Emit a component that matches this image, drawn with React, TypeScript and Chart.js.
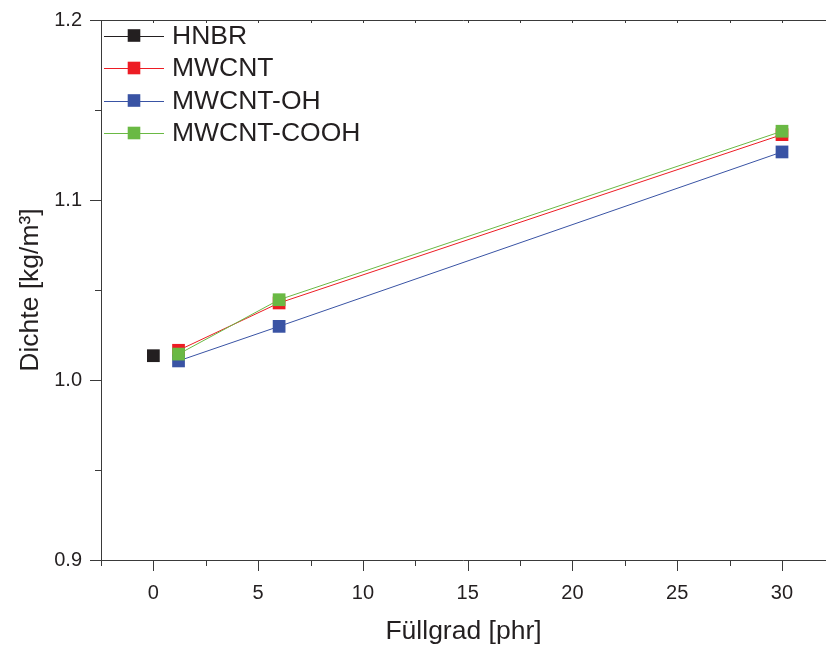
import React, { useEffect, useRef } from "react";
import { Chart, registerables } from "chart.js";

Chart.register(...registerables);

const seriesNames = ["HNBR", "MWCNT", "MWCNT-OH", "MWCNT-COOH"];
const seriesColors = ["#231f20", "#ed1c24", "#3953a4", "#6ab944"];
const hnbrX = [0];
const hnbrY = [1.0135];
const fillX = [1.2, 6, 30];
const mwcntY = [1.0165, 1.0428, 1.1363];
const ohY = [1.0106, 1.0298, 1.1267];
const coohY = [1.0144, 1.0446, 1.1382];
const xTicks = [0, 5, 10, 15, 20, 25, 30];
const yTicks = [0.9, 1.0, 1.1, 1.2];
const xTitle = "Füllgrad [phr]";
const yTitle = "Dichte [kg/m³]";

const FONT = "'Liberation Sans', Arial, sans-serif";
const AXIS_COLOR = "#3a3a3a";

const toPoints = (xs: number[], ys: number[]) => xs.map((x, i) => ({ x, y: ys[i] }));

const axesPlugin = {
  id: "axesPlugin",
  beforeDatasetsDraw(chart: any) {
    const { ctx, chartArea } = chart;
    const xs = chart.scales.x;
    const ys = chart.scales.y;
    const { left, right, top, bottom } = chartArea;
    ctx.save();
    ctx.strokeStyle = AXIS_COLOR;
    ctx.lineWidth = 1;
    ctx.beginPath();
    ctx.moveTo(left + 0.5, top);
    ctx.lineTo(left + 0.5, bottom);
    ctx.moveTo(left, bottom + 0.5);
    ctx.lineTo(right, bottom + 0.5);
    ctx.moveTo(left, top + 0.5);
    ctx.lineTo(right, top + 0.5);
    for (let v = xs.min; v <= xs.max + 1e-9; v += 2.5) {
      const rv = Math.round(v * 10) / 10;
      const px = Math.round(xs.getPixelForValue(rv)) + 0.5;
      const major = Math.abs(rv % 5) < 1e-6;
      ctx.moveTo(px, bottom);
      ctx.lineTo(px, bottom + (major ? 11 : 6));
      ctx.moveTo(px, top);
      ctx.lineTo(px, top + 3);
    }
    for (let i = 0; i <= 6; i++) {
      const v = ys.min + i * 0.05;
      const py = Math.round(ys.getPixelForValue(v)) + 0.5;
      const major = i % 2 === 0;
      ctx.moveTo(left, py);
      ctx.lineTo(left - (major ? 11 : 6), py);
    }
    ctx.stroke();
    ctx.restore();
  },
  afterDraw(chart: any) {
    const { ctx } = chart;
    ctx.save();
    const startY = 35.5;
    const step = 32.5;
    seriesNames.forEach((name, i) => {
      const y = startY + i * step;
      ctx.strokeStyle = seriesColors[i];
      ctx.lineWidth = 1;
      ctx.beginPath();
      ctx.moveTo(104, Math.round(y) + 0.5);
      ctx.lineTo(164, Math.round(y) + 0.5);
      ctx.stroke();
      ctx.fillStyle = seriesColors[i];
      ctx.fillRect(134 - 6.3, y - 6.3, 12.6, 12.6);
      ctx.fillStyle = "#231f20";
      ctx.font = `26.5px ${FONT}`;
      ctx.textBaseline = "middle";
      ctx.textAlign = "left";
      ctx.fillText(name, 172, y + 1);
    });
    ctx.restore();
  },
};

export default function App() {
  const ref = useRef<HTMLCanvasElement | null>(null);
  useEffect(() => {
    if (!ref.current) return;
    const ds = (label: string, data: any[], color: string, order: number) => ({
      label,
      data,
      borderColor: color,
      backgroundColor: color,
      pointBackgroundColor: color,
      pointBorderWidth: 0,
      pointStyle: "rect",
      pointRadius: 9,
      borderWidth: 1,
      showLine: true,
      order,
    });
    const chart = new Chart(ref.current, {
      type: "scatter",
      data: {
        datasets: [
          ds(seriesNames[0], toPoints(hnbrX, hnbrY), seriesColors[0], 3),
          ds(seriesNames[1], toPoints(fillX, mwcntY), seriesColors[1], 2),
          ds(seriesNames[2], toPoints(fillX, ohY), seriesColors[2], 1),
          ds(seriesNames[3], toPoints(fillX, coohY), seriesColors[3], 0),
        ] as any,
      },
      options: {
        animation: false,
        responsive: false,
        devicePixelRatio: 1,
        layout: { autoPadding: false, padding: { top: 20, right: 0, left: 0, bottom: 0 } },
        plugins: { legend: { display: false }, tooltip: { enabled: false } },
        scales: {
          x: {
            type: "linear",
            min: -2.5,
            max: 32.1,
            grid: { display: false, drawTicks: false },
            border: { display: false },
            afterBuildTicks: (s: any) => {
              s.ticks = xTicks.map((v) => ({ value: v }));
            },
            afterFit: (s: any) => {
              s.height = 88;
              s.paddingLeft = 0;
              s.paddingRight = 0;
            },
            ticks: {
              padding: 21,
              color: "#231f20",
              font: { family: FONT, size: 20 },
              maxRotation: 0,
              autoSkip: false,
              callback: (v: any) => String(v),
            },
            title: {
              display: true,
              text: xTitle,
              color: "#231f20",
              font: { family: FONT, size: 26.5 },
              padding: { top: 0, bottom: 0 },
            },
          },
          y: {
            type: "linear",
            min: 0.9,
            max: 1.2,
            grid: { display: false, drawTicks: false },
            border: { display: false },
            afterBuildTicks: (s: any) => {
              s.ticks = yTicks.map((v) => ({ value: v }));
            },
            afterFit: (s: any) => {
              s.width = 101;
              s.paddingTop = 0;
              s.paddingBottom = 0;
            },
            ticks: {
              padding: 19,
              color: "#231f20",
              font: { family: FONT, size: 20 },
              autoSkip: false,
              callback: (v: any) => Number(v).toFixed(1),
            },
            title: {
              display: true,
              text: yTitle,
              color: "#231f20",
              font: { family: FONT, size: 26.5 },
              padding: { top: 15, bottom: 0 },
            },
          },
        },
      },
      plugins: [axesPlugin],
    });
    return () => chart.destroy();
  }, []);
  return (
    <div style={{ position: "absolute", left: 0, top: 0, width: 826, height: 648, background: "#fff" }}>
      <canvas ref={ref} width={826} height={648} />
    </div>
  );
}
